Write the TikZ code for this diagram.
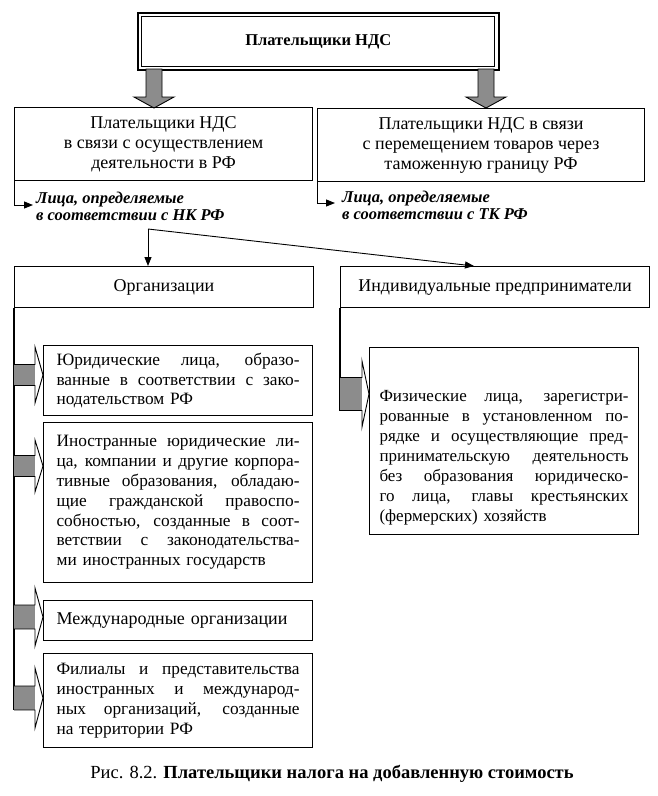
\documentclass[tikz,border=0pt]{standalone}
\usepackage{fontspec}
\setmainfont{Liberation Serif}
\usetikzlibrary{arrows.meta}
\definecolor{ag}{RGB}{140,140,140}
\newcommand\jl[1]{\leavevmode\hbox to 243pt{\spaceskip=0.25em plus 1fil\xspaceskip=0.25em plus 1fil #1}}
\newcommand\jr[1]{\leavevmode\hbox to 249pt{\spaceskip=0.25em plus 1fil\xspaceskip=0.25em plus 1fil #1}}
\begin{document}
\begin{tikzpicture}[x=1pt,y=-1pt,
  font=\fontsize{18}{20}\selectfont,
  box/.style={draw, line width=1.1pt, inner sep=0pt, anchor=north west},
  sbox/.style={box, text width=243pt, inner xsep=13pt, align=left, font=\fontsize{17.3}{19.8}\selectfont},
  arr/.style={line width=0.9pt, -{Triangle[length=9pt,width=7pt]}},
  blk/.style={draw, line width=0.9pt, fill=ag},
  ital/.style={anchor=west, align=left, inner sep=0pt, font=\fontsize{16.5}{17}\selectfont\bfseries\itshape},
]
\useasboundingbox (0,0) rectangle (658,796);

% top box
\node[box, line width=1.6pt, minimum width=361pt, minimum height=57pt,
  font=\fontsize{16.5}{20}\selectfont\bfseries] (T) at (137,12) {Плательщики НДС};
\draw[line width=0.8pt] ([shift={(4,4)}]T.north west) rectangle ([shift={(-5,-4)}]T.south east);

% block arrows down
\filldraw[blk] (146,69) -- (162,69) -- (162,97) -- (174,97) -- (154,108) -- (134,97) -- (146,97) -- cycle;
\filldraw[blk] (478,69) -- (494,69) -- (494,97) -- (506,97) -- (486,108) -- (466,97) -- (478,97) -- cycle;

% second level
\node[box, minimum width=298pt, minimum height=73pt, align=center] (L) at (14,107)
  {Плательщики НДС\\в связи с осуществлением\\деятельности в РФ};
\node[box, minimum width=327pt, minimum height=73pt, align=center] (R) at (317,108)
  {Плательщики НДС в связи\\с перемещением товаров через\\таможенную границу РФ};

\coordinate (aL) at (33,205);
\draw[arr] (L.south west) |- (aL);
\node[ital] (NK) at (36,206.5) {Лица, определяемые\\в соответствии с НК РФ};
\coordinate (aR) at (335,203);
\draw[arr] (R.south west) |- (aR);
\node[ital] (TK) at (342,205.5) {Лица, определяемые\\в соответствии с ТК РФ};

% third level
\node[box, minimum width=299pt, minimum height=41pt] (Org) at (14,266) {Организации};
\node[box, minimum width=309pt, minimum height=41pt] (IP) at (340,266) {Индивидуальные предприниматели};

\coordinate (S) at (148,229);
\coordinate (tIP) at (474,266);
\draw[arr] (S) -- (S |- Org.north);
\draw[arr] (S) -- (tIP);

% left column
\draw[line width=1.1pt] (Org.south west) -- (14,710);
\node[sbox, minimum height=70pt] (B1) at (43,345)
  {\jl{Юридические лица, образо-}\\\jl{ванные в соответствии с зако-}\\нодательством РФ};
\node[sbox, minimum height=160pt] (B2) at (43,422)
  {\jl{Иностранные юридические ли-}\\\jl{ца, компании и другие корпора-}\\\jl{тивные образования, обладаю-}\\\jl{щие гражданской правоспо-}\\\jl{собностью, созданные в соот-}\\\jl{ветствии с законодательства-}\\ми иностранных государств};
\node[sbox, minimum height=40pt, font=\fontsize{18}{20}\selectfont] (B3) at (43,600) {Международные организации};
\node[sbox, minimum height=94pt] (B4) at (43,653)
  {\jl{Филиалы и представительства}\\\jl{иностранных и международ-}\\\jl{ных организаций, созданные}\\на территории РФ};

\foreach \c/\h/\s in {375/28/10.5, 466/26/10.5, 617/29/12, 698/30/12}{
  \fill[ag] (14,\c-\s) rectangle (35,\c+\s);
  \draw[line width=0.9pt] (14,\c-\s) -- (35,\c-\s) -- (35,\c-\h) -- (43,\c) -- (35,\c+\h) -- (35,\c+\s) -- (14,\c+\s);
}

% right column
\draw[line width=1.1pt] (IP.south west) -- (340,410.5);
\fill[ag] (340,377.5) rectangle (362,410.5);
\draw[line width=0.9pt] (340,377.5) -- (362,377.5) -- (362,361) -- (369,394) -- (362,427) -- (362,410.5) -- (340,410.5);
\node[box, minimum width=269pt, minimum height=187pt] (BR) at (369,347) {};
\node[text width=249pt, inner sep=0pt, align=left, font=\fontsize{17}{20}\selectfont] (BRt) at ([yshift=-17pt]BR.center)
  {\jr{Физические лица, зарегистри-}\\\jr{рованные в установленном по-}\\\jr{рядке и осуществляющие пред-}\\\jr{принимательскую деятельность}\\\jr{без образования юридическо-}\\\jr{го лица, главы крестьянских}\\(фермерских) хозяйств};

% caption
\node[font=\fontsize{18.5}{20}\selectfont] (cap) at (332,774)
  {Рис. 8.2. \textbf{Плательщики налога на добавленную стоимость}};
\end{tikzpicture}
\end{document}
